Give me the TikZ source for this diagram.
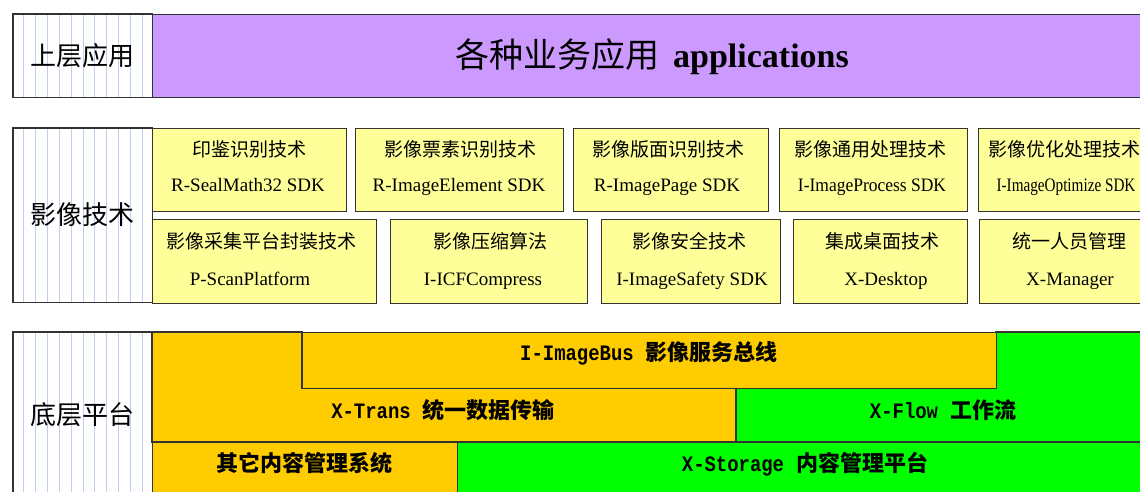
\documentclass[tikz,border=0pt]{standalone}
\usepackage{fontspec}
\setmainfont{Liberation Serif}
\newfontfamily\cjk{Noto Sans CJK SC}
\newfontfamily\monof{Liberation Mono}
\definecolor{purplefill}{HTML}{CC99FF}
\definecolor{yellowfill}{HTML}{FFFF99}
\definecolor{orangefill}{HTML}{FFCC00}
\definecolor{greenfill}{HTML}{00FF00}
\definecolor{stripe}{HTML}{BFD0EE}
\definecolor{edge}{HTML}{333333}
\tikzset{
  frame/.style={draw=edge, line width=1.1pt},
  ybox/.style={frame, fill=yellowfill, anchor=north west, inner sep=0pt},
  labbox/.style={fill=white, anchor=north west, inner sep=0pt},
  stripeline/.style={draw=stripe, line width=1pt},
  cn/.style={font=\cjk\fontsize{19}{22}\selectfont, anchor=base, inner sep=0pt},
  en/.style={font=\fontsize{19}{22}\selectfont, anchor=base, inner sep=0pt},
  labtext/.style={font=\cjk\fontsize{26}{30}\selectfont, inner sep=0pt},
  bustext/.style={anchor=base, inner sep=0pt},
}
\newcommand\cnb[1]{{\cjk\bfseries\fontsize{22}{24}\selectfont #1}}
\newcommand\mono[1]{\scalebox{0.86}[1]{\monof\bfseries\fontsize{22}{24}\selectfont #1}\hspace{12pt}}
\begin{document}
\begin{tikzpicture}[x=1pt,y=-1pt]
\clip (0,0) rectangle (1140,491);
\fill[white] (0,0) rectangle (1140,491);

% ---------- label boxes ----------
\node[labbox, minimum width=139pt, minimum height=83pt] (lab1) at (13,14) {};
\node[labbox, minimum width=139pt, minimum height=174pt] (lab2) at (13,128) {};
\node[labbox, minimum width=139pt, minimum height=170pt] (lab3) at (13,332) {};
\foreach \k in {0,...,10}{
  \pgfmathsetmacro\xx{23.3+11.94*\k}
  \draw[stripeline] (\xx,14) -- (\xx,97);
  \draw[stripeline] (\xx,128) -- (\xx,302);
  \draw[stripeline] (\xx,332) -- (\xx,502);
}
\draw[frame] (lab1.north west) rectangle (lab1.south east);
\draw[frame] (lab2.north west) rectangle (lab2.south east);
\draw[frame] (lab3.north west) rectangle (lab3.south east);
\node[labtext] (lab1t) at (82.5,55.5) {上层应用};
\node[labtext] (lab2t) at (82.5,215) {影像技术};
\node[labtext] (lab3t) at (82.5,415) {底层平台};

% ---------- top: applications ----------
\node[frame, fill=purplefill, anchor=north west, inner sep=0pt, minimum width=1010pt, minimum height=83pt] (app) at (152,14) {};
\node[anchor=base, inner sep=0pt] (appt) at (652,67) {{\cjk\fontsize{34}{38}\selectfont 各种业务应用}\hspace{14pt}{\bfseries\fontsize{34}{38}\selectfont applications}};

% ---------- middle: imaging technologies ----------
\node[ybox, minimum width=194pt, minimum height=83pt] (a1) at (152,128) {};
\node[ybox, minimum width=208pt, minimum height=83pt] (a2) at (355,128) {};
\node[ybox, minimum width=195pt, minimum height=83pt] (a3) at (573,128) {};
\node[ybox, minimum width=188pt, minimum height=83pt] (a4) at (779,128) {};
\node[ybox, minimum width=174pt, minimum height=83pt] (a5) at (978,128) {};
\node[cn] (a1c) at (249,156) {印鉴识别技术};
\node[en] (a1e) at (248,191) {R-SealMath32 SDK};
\node[cn] (a2c) at (460,156) {影像票素识别技术};
\node[en] (a2e) at (459,191) {R-ImageElement SDK};
\node[cn] (a3c) at (668,156) {影像版面识别技术};
\node[en] (a3e) at (667,191) {R-ImagePage SDK};
\node[cn] (a4c) at (870,156) {影像通用处理技术};
\node[en] (a4e) at (872,191) {\scalebox{0.92}[1]{I-ImageProcess SDK}};
\node[cn] (a5c) at (1064,156) {影像优化处理技术};
\node[en] (a5e) at (1066,191) {\scalebox{0.8}[1]{I-ImageOptimize SDK}};

\node[ybox, minimum width=224pt, minimum height=84pt] (b1) at (152,219) {};
\node[ybox, minimum width=197pt, minimum height=84pt] (b2) at (390,219) {};
\node[ybox, minimum width=179pt, minimum height=84pt] (b3) at (601,219) {};
\node[ybox, minimum width=174pt, minimum height=84pt] (b4) at (793,219) {};
\node[ybox, minimum width=181pt, minimum height=84pt] (b5) at (979,219) {};
\node[cn] (b1c) at (261,248) {影像采集平台封装技术};
\node[en] (b1e) at (250,285) {P-ScanPlatform};
\node[cn] (b2c) at (490,248) {影像压缩算法};
\node[en] (b2e) at (483,285) {I-ICFCompress};
\node[cn] (b3c) at (689,248) {影像安全技术};
\node[en] (b3e) at (692,285) {I-ImageSafety SDK};
\node[cn] (b4c) at (882,248) {集成桌面技术};
\node[en] (b4e) at (886,285) {X-Desktop};
\node[cn] (b5c) at (1069,248) {统一人员管理};
\node[en] (b5e) at (1070,285) {X-Manager};

% ---------- bottom: platform ----------
\filldraw[frame, fill=orangefill] (152,332) -- (302,332) -- (302,388) -- (736,388) -- (736,442) -- (152,442) -- cycle;
\filldraw[frame, fill=greenfill] (996,332) -- (1162,332) -- (1162,442) -- (736,442) -- (736,388) -- (996,388) -- cycle;
\node[frame, fill=orangefill, anchor=north west, inner sep=0pt, minimum width=694pt, minimum height=56pt] (bus) at (302,332) {};
\node[frame, fill=orangefill, anchor=north west, inner sep=0pt, minimum width=305pt, minimum height=60pt] (other) at (152,442) {};
\node[frame, fill=greenfill, anchor=north west, inner sep=0pt, minimum width=705pt, minimum height=60pt] (storage) at (457,442) {};

\node[bustext] (bust) at (649,360) {\mono{I-ImageBus}\cnb{影像服务总线}};
\node[bustext] (trans) at (443,418) {\mono{X-Trans}\cnb{统一数据传输}};
\node[bustext] (flow) at (943,418) {\mono{X-Flow}\cnb{工作流}};
\node[bustext] (othert) at (304,471) {\cnb{其它内容管理系统}};
\node[bustext] (stor) at (805,471) {\mono{X-Storage}\cnb{内容管理平台}};
\end{tikzpicture}
\end{document}
